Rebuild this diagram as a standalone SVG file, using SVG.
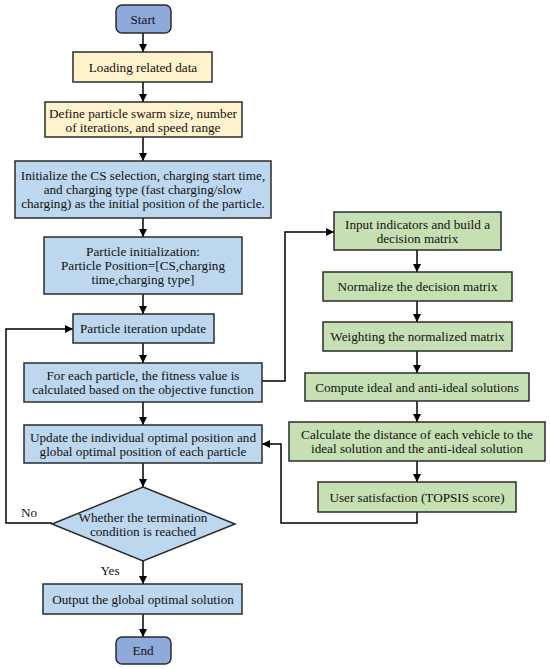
<svg xmlns="http://www.w3.org/2000/svg" width="550" height="669" viewBox="0 0 550 669">
<defs>
<marker id="ah" viewBox="0 0 10 10" refX="10" refY="5" markerWidth="8" markerHeight="8" markerUnits="userSpaceOnUse" orient="auto">
<path d="M0,0 L10,5 L0,10 Z" fill="#000"/>
</marker>
<style>
.b{stroke:#2b2b2b;stroke-width:1.5}
.term{fill:#8eaadb}
.y{fill:#fff2cc}
.bl{fill:#bdd7ee}
.g{fill:#c6e0b4}
text{font-family:"Liberation Serif","Times New Roman",serif;font-size:13.2px;fill:#111;text-anchor:middle;dominant-baseline:central}
.c{fill:none;stroke:#000;stroke-width:1.5;marker-end:url(#ah)}
</style>
</defs>
<rect width="550" height="669" fill="#fff"/>
<g id="connectors">
<line class="c" x1="143" y1="33" x2="143" y2="52"/>
<line class="c" x1="143" y1="82" x2="143" y2="102"/>
<line class="c" x1="143" y1="137" x2="143" y2="161"/>
<line class="c" x1="143" y1="218" x2="143" y2="237"/>
<line class="c" x1="143" y1="294" x2="143" y2="314"/>
<line class="c" x1="143" y1="343" x2="143" y2="363"/>
<line class="c" x1="143" y1="402" x2="143" y2="425"/>
<line class="c" x1="143" y1="463" x2="143" y2="487"/>
<line class="c" x1="143" y1="561" x2="143" y2="584"/>
<line class="c" x1="143" y1="614" x2="143" y2="637"/>
<polyline class="c" points="52,523 6,523 6,329 73,329"/>
<polyline class="c" points="262,381 285,381 285,232 334,232"/>
<line class="c" x1="417" y1="250" x2="417" y2="272"/>
<line class="c" x1="417" y1="301" x2="417" y2="322"/>
<line class="c" x1="417" y1="351" x2="417" y2="373"/>
<line class="c" x1="417" y1="401" x2="417" y2="422"/>
<line class="c" x1="417" y1="461" x2="417" y2="482"/>
<polyline class="c" points="417,512 417,523 281,523 281,444 262,444"/>
<text x="29" y="512">No</text>
<text x="110" y="570">Yes</text>
</g>
<g id="start"><rect class="b term" x="116" y="5" width="55" height="28" rx="6"/><text x="143" y="19">Start</text></g>
<g id="loading"><rect class="b y" x="73" y="52" width="139" height="30"/><text x="143" y="67">Loading related data</text></g>
<g id="define"><rect class="b y" x="45" y="102" width="197" height="35"/><text x="143" y="113">Define particle swarm size, number</text><text x="143" y="127">of iterations, and speed range</text></g>
<g id="initialize"><rect class="b bl" x="15" y="161" width="256" height="57"/><text x="143" y="175">Initialize the CS selection, charging start time,</text><text x="143" y="189">and charging type (fast charging/slow</text><text x="143" y="203">charging) as the initial position of the particle.</text></g>
<g id="pinit"><rect class="b bl" x="44" y="237" width="198" height="57"/><text x="143" y="251">Particle initialization:</text><text x="143" y="265">Particle Position=[CS,charging</text><text x="143" y="279">time,charging type]</text></g>
<g id="iter"><rect class="b bl" x="73" y="314" width="141" height="29"/><text x="143" y="328.5">Particle iteration update</text></g>
<g id="fitness"><rect class="b bl" x="24" y="363" width="238" height="39"/><text x="143" y="375.5">For each particle, the fitness value is</text><text x="143" y="389.5">calculated based on the objective function</text></g>
<g id="update"><rect class="b bl" x="24" y="425" width="238" height="38"/><text x="143" y="437">Update the individual optimal position and</text><text x="143" y="451">global optimal position of each particle</text></g>
<g id="decision"><polygon class="b bl" points="143,487 235,524 143,561 52,524"/><text x="143" y="517">Whether the termination</text><text x="143" y="531">condition is reached</text></g>
<g id="output"><rect class="b bl" x="43" y="584" width="199" height="30"/><text x="143" y="599">Output the global optimal solution</text></g>
<g id="end"><rect class="b term" x="116" y="637" width="55" height="27" rx="6"/><text x="143" y="650.5">End</text></g>
<g id="input"><rect class="b g" x="334" y="212" width="167" height="38"/><text x="417.5" y="224">Input indicators and build a</text><text x="417.5" y="238">decision matrix</text></g>
<g id="normalize"><rect class="b g" x="323" y="272" width="189" height="29"/><text x="417.5" y="286.5">Normalize the decision matrix</text></g>
<g id="weighting"><rect class="b g" x="323" y="322" width="189" height="29"/><text x="417.5" y="336.5">Weighting the normalized matrix</text></g>
<g id="compute"><rect class="b g" x="305" y="373" width="224" height="28"/><text x="417" y="387">Compute ideal and anti-ideal solutions</text></g>
<g id="calculate"><rect class="b g" x="289" y="422" width="256" height="39"/><text x="417" y="434.5">Calculate the distance of each vehicle to the</text><text x="417" y="448.5">ideal solution and the anti-ideal solution</text></g>
<g id="user"><rect class="b g" x="318" y="482" width="198" height="30"/><text x="417" y="497">User satisfaction (TOPSIS score)</text></g>
</svg>
